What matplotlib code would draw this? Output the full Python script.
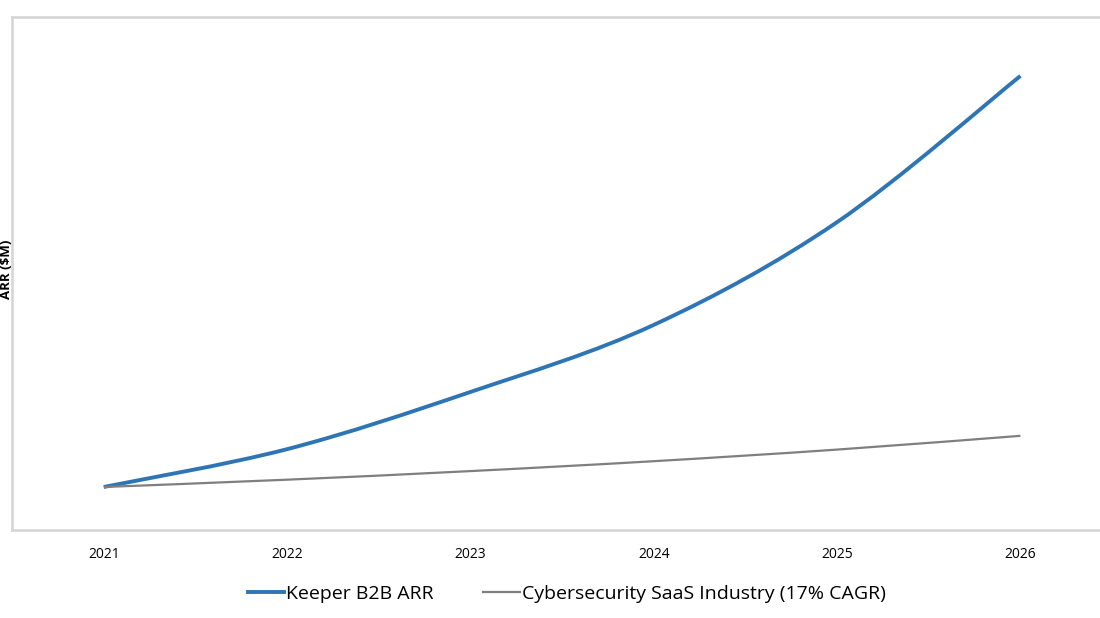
import matplotlib.pyplot as plt
from matplotlib.path import Path
from matplotlib.patches import PathPatch
from matplotlib.lines import Line2D

years = [2021, 2022, 2023, 2024, 2025, 2026]
keeper_arr = [10.0, 18.8, 32.1, 47.7, 71.6, 105.6]
industry_arr = [10.0, 11.7, 13.7, 16.0, 18.7, 21.9]

blue = '#2E75B6'
grey = '#7F7F7F'


def smooth_path(xs, ys, t=1/6):
    # bezier through the points, like a spreadsheet "smoothed line"
    verts = [(xs[0], ys[0])]
    codes = [Path.MOVETO]
    n = len(xs)
    for i in range(n - 1):
        x0, y0 = (xs[i - 1], ys[i - 1]) if i > 0 else (xs[i], ys[i])
        x1, y1 = xs[i], ys[i]
        x2, y2 = xs[i + 1], ys[i + 1]
        x3, y3 = (xs[i + 2], ys[i + 2]) if i + 2 < n else (x2, y2)
        c1 = (x1 + (x2 - x0) * t, y1 + (y2 - y0) * t)
        c2 = (x2 - (x3 - x1) * t, y2 - (y3 - y1) * t)
        verts += [c1, c2, (x2, y2)]
        codes += [Path.CURVE4] * 3
    return Path(verts, codes)


plt.rcParams['font.family'] = ['Open Sans', 'DejaVu Sans']

fig = plt.figure(figsize=(11, 6.18), dpi=100)
ax = fig.add_axes([0.011, 0.1424, 1.0, 0.8301])

ax.add_patch(PathPatch(smooth_path(years, keeper_arr), fill=False,
                       edgecolor=blue, lw=2.8, capstyle='butt'))
ax.add_patch(PathPatch(smooth_path(years, industry_arr), fill=False,
                       edgecolor=grey, lw=1.6, capstyle='butt'))

ax.set_xlim(2020.5, 2026.5)
ax.set_ylim(0, 119.3)
ax.set_xticks(years)
ax.set_xticklabels([str(y) for y in years], fontsize=10)
ax.tick_params(axis='x', length=0, pad=12)
ax.set_yticks([])

for side in ['left', 'top', 'bottom']:
    ax.spines[side].set_color('#D4D4D4')
    ax.spines[side].set_linewidth(1.8)
ax.spines['right'].set_visible(False)

fig.text(0.0, 0.565, 'ARR ($M)', rotation=90, fontsize=9.5,
         fontweight='bold', ha='left', va='center')

handles = [Line2D([], [], color=blue, lw=2.8),
           Line2D([], [], color=grey, lw=1.6)]
fig.legend(handles, ['Keeper B2B ARR', 'Cybersecurity SaaS Industry (17% CAGR)'],
           loc='center', bbox_to_anchor=(0.515, 0.039), ncol=2, frameon=False,
           fontsize=14, handlelength=1.9, handletextpad=0.1, columnspacing=2.5)

fig.savefig('out.png', dpi=100)
